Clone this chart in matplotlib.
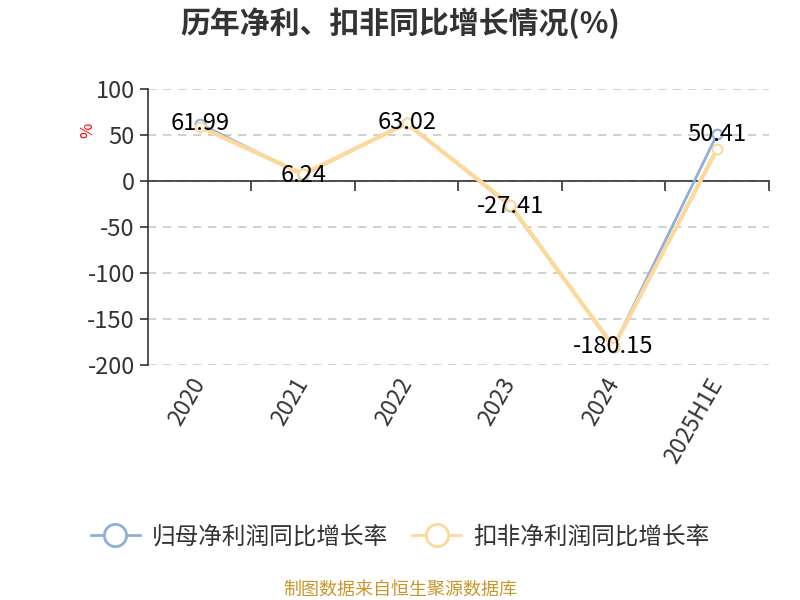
import matplotlib
matplotlib.use('Agg')
import matplotlib.pyplot as plt
from matplotlib.lines import Line2D

plt.rcParams['font.family'] = ['Noto Sans CJK SC', 'DejaVu Sans']
plt.rcParams['axes.unicode_minus'] = False

years = ['2020', '2021', '2022', '2023', '2024', '2025H1E']
netProfitGrowth = [61.99, 6.24, 63.02, -27.41, -180.15, 50.41]
deductedGrowth = [58.7, 7.3, 62.3, -26.0, -180.4, 34.4]
yTicks = [-200, -150, -100, -50, 0, 50, 100]

blue = '#8eaedb'
orange = '#fdd89b'
textColor = '#333333'

fig = plt.figure(figsize=(8, 6), dpi=100)
ax = fig.add_axes([0.185, 0.392, 0.776, 0.46])

x = list(range(len(years)))
ax.plot(x, netProfitGrowth, color=blue, lw=2, marker='o', ms=7,
        mfc='white', mec=blue, mew=1.5, zorder=3)
ax.plot(x, deductedGrowth, color=orange, lw=3, marker='o', ms=7,
        mfc='white', mec=orange, mew=1.5, zorder=4)

for xi, v in zip(x, netProfitGrowth):
  ax.text(xi, v, '%.2f' % v, ha='center', va='center', fontsize=17,
          color='black', zorder=5)

ax.set_xlim(-0.5, len(years) - 0.5)
ax.set_ylim(-200, 100)
ax.set_yticks(yTicks)
ax.tick_params(axis='y', labelsize=17, colors=textColor, length=6, width=1.2)
ax.yaxis.grid(True, linestyle=(0, (5, 4)), color='#c8c8c8', lw=1.2)
ax.set_axisbelow(True)

for s in ['top', 'right']:
  ax.spines[s].set_visible(False)
ax.spines['left'].set_color(textColor)
ax.spines['left'].set_linewidth(1.2)
ax.spines['bottom'].set_position(('data', 0))
ax.spines['bottom'].set_color(textColor)
ax.spines['bottom'].set_linewidth(1.2)
ax.set_xticks([i + 0.5 for i in x])
ax.set_xticklabels([])
ax.tick_params(axis='x', length=7, width=1.2, colors=textColor)

sec = ax.secondary_xaxis('bottom')
sec.set_xticks(x)
sec.set_xticklabels(years, rotation=60, ha='right', va='center',
                    rotation_mode='anchor', fontsize=16.5, color=textColor)
sec.tick_params(length=0, pad=11)
sec.spines['bottom'].set_visible(False)

fig.text(0.5, 0.962, '历年净利、扣非同比增长情况(%)', ha='center', va='center',
         fontsize=21.5, fontweight='bold', color=textColor)
fig.text(0.11, 0.782, '%', ha='center', va='center', rotation=90,
         fontsize=12, color='red')

handles = [
  Line2D([], [], color=blue, lw=2, marker='o', ms=16, mfc='white', mec=blue, mew=2),
  Line2D([], [], color=orange, lw=2, marker='o', ms=16, mfc='white', mec=orange, mew=2),
]
fig.legend(handles, ['归母净利润同比增长率', '扣非净利润同比增长率'],
           loc='center', bbox_to_anchor=(0.5, 0.105), ncol=2, frameon=False,
           fontsize=17, handlelength=2.1, handletextpad=0.5, columnspacing=1.0,
           labelcolor=textColor)

fig.text(0.5, 0.017, '制图数据来自恒生聚源数据库', ha='center', va='center',
         fontsize=13, color='#c9962b')

plt.savefig('out.png', dpi=100)
